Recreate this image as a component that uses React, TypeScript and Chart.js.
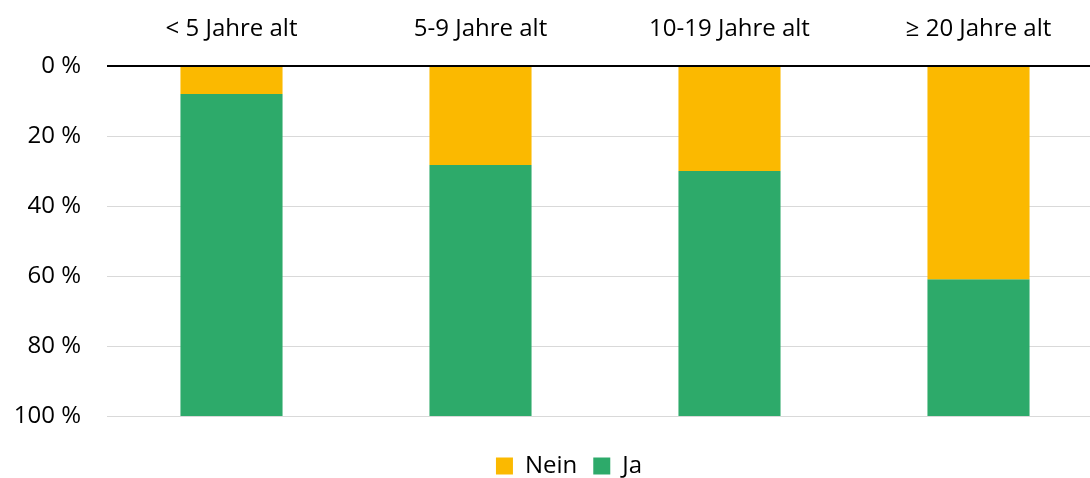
import React, { useEffect, useRef } from "react";
import { Chart, registerables } from "chart.js";

Chart.register(...registerables);

const categories = ["< 5 Jahre alt", "5-9 Jahre alt", "10-19 Jahre alt", "≥ 20 Jahre alt"];
const neinValues = [8, 28.3, 30, 60.9];
const jaValues = [92, 71.7, 70, 39.1];
const yTicks = [0, 20, 40, 60, 80, 100];

const FONT = "'Open Sans', sans-serif";

const legendShift = {
  id: "legendShift",
  afterLayout(chart: any) {
    if (chart.legend) {
      chart.legend.left += 35;
      chart.legend.top += 10;
      chart.legend.bottom += 10;
    }
  },
};

export default function App() {
  const ref = useRef<HTMLCanvasElement | null>(null);
  useEffect(() => {
    if (!ref.current) return;
    const chart = new Chart(ref.current, {
      type: "bar",
      data: {
        labels: categories,
        datasets: [
          { label: "Nein", data: neinValues, backgroundColor: "#FBB900", borderWidth: 0 },
          { label: "Ja", data: jaValues, backgroundColor: "#2DAA6A", borderWidth: 0 },
        ],
      },
      plugins: [legendShift],
      options: {
        animation: false,
        responsive: false,
        maintainAspectRatio: false,
        layout: { padding: { top: 0, left: 0, right: 0, bottom: 0 } },
        datasets: { bar: { categoryPercentage: 1, barPercentage: 0.41 } },
        plugins: {
          legend: {
            position: "bottom",
            labels: {
              boxWidth: 17,
              boxHeight: 17,
              padding: 16,
              color: "#000",
              font: { family: FONT, size: 24 },
            },
            title: {
              display: true,
              text: " ",
              font: { size: 10 },
              padding: { top: 0, bottom: 0 },
            },
          },
          tooltip: { enabled: false },
        },
        scales: {
          x: {
            position: "top",
            stacked: true,
            afterFit: (scale: any) => {
              scale.height = 66;
            },
            grid: { display: false, drawTicks: false },
            border: { display: false },
            ticks: { color: "#000", padding: 22, font: { family: FONT, size: 24 } },
          },
          y: {
            stacked: true,
            reverse: true,
            min: 0,
            max: 100,
            afterBuildTicks: (scale: any) => {
              scale.ticks = yTicks.map((v) => ({ value: v }));
            },
            afterFit: (scale: any) => {
              scale.width = 107;
            },
            grid: {
              drawTicks: false,
              color: (ctx: any) => (ctx.tick && ctx.tick.value === 0 ? "#000" : "#D9D9D9"),
              lineWidth: (ctx: any) => (ctx.tick && ctx.tick.value === 0 ? 2 : 1),
            },
            border: { display: false },
            ticks: {
              color: "#000",
              padding: 26,
              font: { family: FONT, size: 24 },
              callback: (v: any) => v + " %",
            },
          },
        },
      },
    });
    return () => chart.destroy();
  }, []);
  return (
    <div style={{ position: "absolute", left: 0, top: 0, width: 1090, height: 478, overflow: "hidden", background: "#fff" }}>
      <canvas ref={ref} width={1103} height={478} style={{ width: 1103, height: 478, display: "block" }} />
    </div>
  );
}
